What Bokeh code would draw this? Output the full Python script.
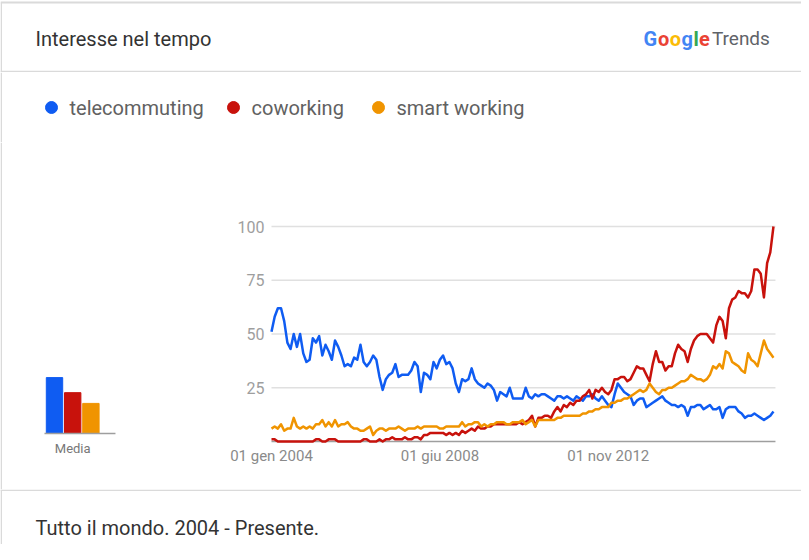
from bokeh.plotting import figure
from bokeh.layouts import column, row
from bokeh.models import Range1d
from bokeh.embed import file_html
from bokeh.resources import INLINE
from bokeh.core.properties import value

# ---------------- data ----------------
series_names = ["telecommuting", "coworking", "smart working"]
series_colors = ["#0f5cf2", "#c8120c", "#f09400"]

# monthly values, Jan 2004 .. Mar 2017
telecommuting = [
    51, 58, 62, 62, 56, 46, 43, 50, 44, 50,
    41, 37, 38, 48, 46, 49, 40, 45, 42, 38,
    47, 44, 40, 35, 36, 35, 39, 38, 45, 37,
    35, 37, 40, 38, 30, 24, 29, 31, 32, 36,
    30, 31, 31, 31, 33, 37, 35, 23, 32, 31,
    29, 37, 34, 38, 40, 36, 37, 34, 27, 23,
    29, 28, 29, 34, 29, 27, 26, 25, 27, 26,
    24, 19, 23, 22, 21, 25, 20, 20, 20, 20,
    25, 21, 20, 22, 21, 22, 22, 21, 20, 19,
    21, 21, 20, 21, 20, 19, 21, 20, 19, 21,
    21, 22, 20, 19, 21, 19, 17, 16, 22, 27,
    25, 23, 22, 21, 17, 19, 20, 20, 16, 17,
    18, 19, 20, 21, 19, 18, 17, 17, 16, 17,
    16, 12, 16, 16, 17, 17, 15, 16, 17, 15,
    15, 16, 11, 15, 16, 16, 16, 14, 13, 11,
    12, 12, 13, 12, 11, 10, 11, 12, 14,
]
coworking = [
    1, 1, 0, 0, 0, 0, 0, 0, 0, 0,
    0, 0, 0, 0, 1, 1, 0, 0, 1, 1,
    1, 0, 0, 0, 0, 0, 0, 0, 0, 1,
    1, 0, 0, 0, 1, 0, 1, 1, 2, 1,
    1, 1, 2, 1, 1, 2, 2, 1, 3, 3,
    4, 4, 4, 4, 4, 3, 4, 3, 4, 3,
    5, 4, 5, 6, 5, 7, 6, 6, 7, 7,
    8, 8, 8, 8, 8, 8, 8, 8, 9, 8,
    9, 10, 12, 7, 11, 11, 12, 12, 11, 14,
    16, 14, 17, 16, 18, 17, 19, 19, 21, 22,
    24, 20, 24, 23, 25, 23, 22, 24, 29, 29,
    30, 30, 28, 29, 32, 35, 34, 34, 31, 28,
    36, 42, 37, 37, 33, 35, 35, 41, 45, 43,
    42, 37, 43, 47, 49, 50, 50, 50, 48, 46,
    54, 58, 56, 48, 62, 66, 67, 70, 69, 69,
    67, 70, 80, 80, 78, 67, 83, 88, 100,
]
smart_working = [
    6, 7, 6, 8, 5, 6, 6, 11, 7, 6,
    7, 6, 7, 6, 8, 8, 10, 7, 9, 7,
    10, 7, 8, 8, 9, 7, 6, 6, 5, 5,
    6, 7, 3, 5, 6, 6, 5, 6, 6, 6,
    7, 6, 5, 6, 6, 6, 7, 6, 7, 7,
    7, 7, 7, 6, 6, 7, 7, 7, 7, 7,
    9, 7, 8, 8, 9, 9, 7, 8, 7, 8,
    8, 9, 9, 9, 8, 8, 9, 9, 9, 10,
    8, 9, 10, 7, 10, 10, 10, 10, 10, 10,
    11, 11, 12, 12, 12, 12, 12, 12, 13, 13,
    14, 14, 15, 15, 16, 16, 16, 18, 18, 19,
    19, 20, 20, 21, 22, 23, 24, 23, 24, 27,
    25, 23, 22, 24, 24, 25, 25, 26, 27, 28,
    28, 29, 31, 30, 29, 29, 28, 29, 31, 35,
    34, 36, 34, 42, 41, 37, 36, 35, 33, 32,
    41, 38, 37, 35, 41, 47, 43, 41, 39,
]
media = [26, 19, 14]

tick_months = [0, 53, 106]
tick_labels = ["01 gen 2004", "01 giu 2008", "01 nov 2012"]
y_ticks = [25, 50, 75, 100]

title_text = "Interesse nel tempo"
footer_text = "Tutto il mondo. 2004 - Presente."
media_label = "Media"

FONT = value("Roboto")
BORDER = "#dadada"
W = 801


def deco(h, w=W):
    p = figure(width=w, height=h, x_range=Range1d(0, w), y_range=Range1d(h, 0),
               toolbar_location=None, output_backend="svg", min_border=0,
               x_axis_location=None, y_axis_location=None)
    p.grid.visible = False
    p.outline_line_color = None
    p.background_fill_color = "white"
    p.border_fill_color = "white"
    return p


# ---------------- header ----------------
hdr = deco(72)
hdr.segment(x0=[0], y0=[2], x1=[W], y1=[2], line_color=BORDER, line_width=2)
hdr.segment(x0=[0.75], y0=[2], x1=[0.75], y1=[72], line_color=BORDER, line_width=1.5)
hdr.segment(x0=[0], y0=[71], x1=[W], y1=[71], line_color=BORDER, line_width=1.5)
hdr.text(x=[35], y=[38], text=[title_text], text_font=FONT, text_font_size="20px",
         text_color="#333333", text_baseline="middle")
g_letters = ["G", "o", "o", "g", "l", "e"]
g_colors = ["#4285f4", "#ea4335", "#fbbc05", "#4285f4", "#34a853", "#ea4335"]
g_adv = [14.5, 11.8, 11.8, 11.8, 5.5, 10.5]
gx = []
cur = 643
for a in g_adv:
    gx.append(cur)
    cur += a
hdr.text(x=gx, y=[38] * 6, text=g_letters, text_color=g_colors, text_font=FONT,
         text_font_size="20px", text_font_style="bold", text_baseline="middle")
hdr.text(x=[cur + 2.5], y=[38], text=["Trends"], text_font=FONT, text_font_size="19px",
         text_color="#5f6368", text_baseline="middle")

# ---------------- legend ----------------
leg = deco(70)
leg.segment(x0=[0.75], y0=[0], x1=[0.75], y1=[70], line_color=BORDER, line_width=1.5)
dot_x = [51, 233, 378]
leg.scatter(x=dot_x, y=[35] * 3, size=12, color=series_colors)
leg.text(x=[d + 18 for d in dot_x], y=[35] * 3, text=series_names, text_font=FONT,
         text_font_size="20px", text_color="#616161", text_baseline="middle")

# ---------------- averages bar chart ----------------
BW, H = 200, 347
px_x, px_y = 18.2, 2.15
x0_px, base_px = 54, 56
bar = figure(width=BW, height=H,
             x_range=Range1d(-x0_px / px_x, (BW - x0_px) / px_x),
             y_range=Range1d(-base_px / px_y, (H - base_px) / px_y),
             toolbar_location=None, output_backend="svg", min_border=0,
             x_axis_location=None, y_axis_location=None)
bar.grid.visible = False
bar.outline_line_color = None
bar.border_fill_color = "white"
bar.background_fill_color = "white"
bar_x = list(range(len(media)))
bar.vbar(x=bar_x, top=media, width=0.9, color=series_colors)
bar.segment(x0=[-0.55], y0=[0], x1=[3.35], y1=[0], line_color="#9e9e9e", line_width=1.5)
left_edge = -x0_px / px_x + 0.75 / px_x
bar.segment(x0=[left_edge], y0=[-base_px / px_y], x1=[left_edge],
            y1=[(H - base_px) / px_y], line_color=BORDER, line_width=1.5)
bar.text(x=[bar_x[1]], y=[0], text=[media_label], text_font=FONT, text_font_size="13px",
         text_color="#777777", text_align="center", text_baseline="middle", y_offset=15)

# ---------------- main line chart ----------------
months = list(range(len(telecommuting)))
MW = W - BW
ppm = 3.177          # pixels per month
left_px = 71         # frame pixels left of the first month
base_main = 48       # pixels below value 0
x_end_data = months[-1] + 2 / ppm
p = figure(width=MW, height=H,
           x_range=Range1d(-left_px / ppm, (MW - left_px) / ppm),
           y_range=Range1d(-base_main / px_y, (H - base_main) / px_y),
           toolbar_location=None, output_backend="svg", min_border=0,
           x_axis_location=None, y_axis_location=None)
p.grid.visible = False
p.outline_line_color = None
p.border_fill_color = "white"
p.background_fill_color = "white"
# horizontal grid lines and baseline
p.segment(x0=[0] * len(y_ticks), y0=y_ticks, x1=[x_end_data] * len(y_ticks), y1=y_ticks,
          line_color="#e0e0e0", line_width=1.5)
p.segment(x0=[0], y0=[0], x1=[x_end_data], y1=[0], line_color="#9e9e9e", line_width=1.5)
# tick labels
p.text(x=[0] * len(y_ticks), y=y_ticks, text=[str(t) for t in y_ticks], x_offset=-7,
       text_align="right", text_baseline="middle", text_font=FONT,
       text_font_size="16px", text_color="#9e9e9e")
p.text(x=tick_months, y=[0] * len(tick_months), text=tick_labels, y_offset=14,
       text_align="center", text_baseline="middle", text_font=FONT,
       text_font_size="15px", text_color="#8a8a8a")
for vals, col in zip([telecommuting, coworking, smart_working], series_colors):
    p.line(months, vals, line_color=col, line_width=2.5, line_join="round")

mid = row(bar, p)

# ---------------- footer ----------------
ftr = deco(55)
ftr.segment(x0=[0], y0=[0.75], x1=[W], y1=[0.75], line_color=BORDER, line_width=1.5)
ftr.segment(x0=[0.75], y0=[0], x1=[0.75], y1=[55], line_color=BORDER, line_width=1.5)
ftr.text(x=[35], y=[38], text=[footer_text], text_font=FONT, text_font_size="20px",
         text_color="#333333", text_baseline="middle")

layout = column(hdr, leg, mid, ftr)
open("out.html", "w").write(file_html(layout, INLINE))
